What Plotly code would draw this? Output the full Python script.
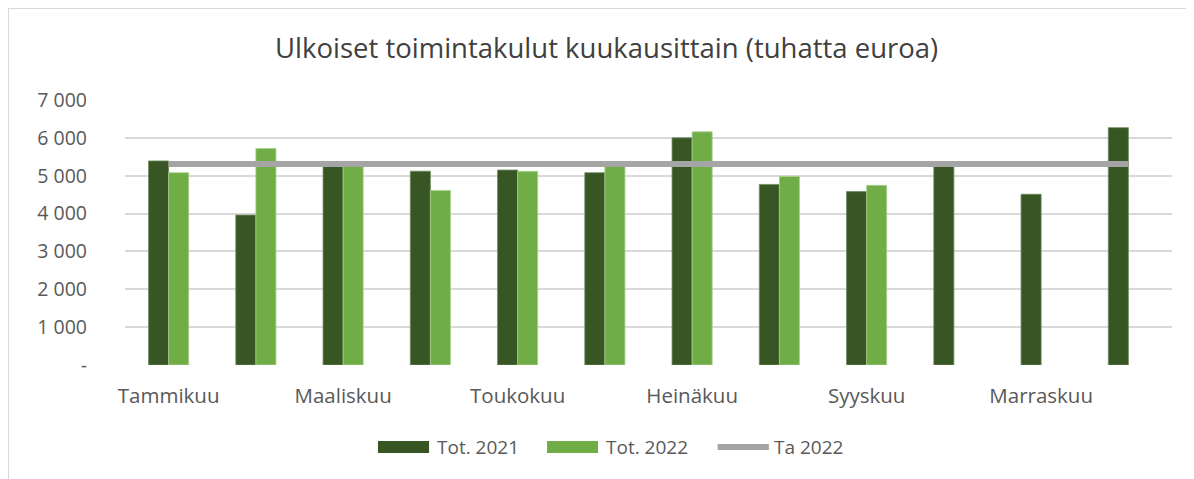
import plotly.graph_objects as go

months = ["Tammikuu", "Helmikuu", "Maaliskuu", "Huhtikuu", "Toukokuu", "Kesäkuu",
          "Heinäkuu", "Elokuu", "Syyskuu", "Lokakuu", "Marraskuu", "Joulukuu"]
series_names = ["Tot. 2021", "Tot. 2022", "Ta 2022"]
tot_2021 = [5390, 3960, 5280, 5120, 5150, 5080, 6000, 4770, 4580, 5280, 4510, 6270]
tot_2022 = [5080, 5720, 5290, 4610, 5115, 5290, 6160, 4980, 4745, None, None, None]
ta_2022 = [5310] * 12
y_ticks = [0, 1000, 2000, 3000, 4000, 5000, 6000, 7000]
y_ticktext = ["-", "1 000", "2 000", "3 000", "4 000", "5 000", "6 000", "7 000"]
x_tickvals = months[::2]

FONT = "Open Sans"
TXT = "#595959"
C21, C22, CTA = "#375623", "#70AD47", "#A5A5A5"

fig = go.Figure()
fig.add_trace(go.Bar(x=months, y=tot_2021, name=series_names[0], showlegend=False,
                     marker=dict(color=C21, line=dict(color="#6f8a5f", width=0.8))))
fig.add_trace(go.Bar(x=months, y=tot_2022, name=series_names[1], showlegend=False,
                     marker=dict(color=C22, line=dict(color="#a9d18e", width=0.8))))
fig.add_trace(go.Scatter(x=months, y=ta_2022, name=series_names[2], mode="lines", showlegend=False,
                         line=dict(color=CTA, width=6)))

# custom legend (Excel-style wide swatches)
legend_shapes = [
    dict(type="rect", xref="paper", yref="paper", x0=0.2416, x1=0.2904, y0=-0.3321, y1=-0.2868,
         fillcolor=C21, line=dict(width=0)),
    dict(type="rect", xref="paper", yref="paper", x0=0.4031, x1=0.4518, y0=-0.3321, y1=-0.2868,
         fillcolor=C22, line=dict(width=0)),
    dict(type="line", xref="paper", yref="paper", x0=0.5660, x1=0.6150, y0=-0.3094, y1=-0.3094,
         line=dict(color=CTA, width=6)),
]
legend_x = [0.2961, 0.4575, 0.6180]
legend_ann = [dict(xref="paper", yref="paper", x=lx, y=-0.3094, xanchor="left", yanchor="middle",
                   text=nm, showarrow=False, font=dict(family=FONT, size=19, color=TXT))
              for lx, nm in zip(legend_x, series_names)]

border = [
    dict(type="line", xref="paper", yref="paper", x0=-0.1117, x1=1.03, y0=1.347, y1=1.347,
         line=dict(color="#d9d9d9", width=2)),
    dict(type="line", xref="paper", yref="paper", x0=-0.1117, x1=-0.1117, y0=1.347, y1=-0.45,
         line=dict(color="#d9d9d9", width=2)),
]

fig.update_layout(
    width=1186, height=471,
    margin=dict(l=117, r=22, t=92, b=114),
    paper_bgcolor="white", plot_bgcolor="white",
    barmode="group", bargap=0.54, bargroupgap=0,
    title=dict(text="Ulkoiset toimintakulut kuukausittain (tuhatta euroa)",
               xref="paper", x=0.46, xanchor="center", y=0.915, yanchor="middle",
               font=dict(family=FONT, size=27.5, color="#404040")),
    font=dict(family=FONT, size=19, color=TXT),
    showlegend=False,
    shapes=border + legend_shapes,
    annotations=legend_ann,
)
fig.update_xaxes(type="category", tickmode="array", tickvals=x_tickvals, ticktext=x_tickvals,
                 showgrid=False, showline=False, ticks="", ticklabelstandoff=16,
                 tickfont=dict(family=FONT, size=20.5, color=TXT))
fig.update_yaxes(range=[0, 7000], tickmode="array", tickvals=y_ticks, ticktext=y_ticktext,
                 showgrid=True, gridcolor="#d9d9d9", gridwidth=1.5, zeroline=False,
                 showline=False, ticks="", ticklabelstandoff=37,
                 tickfont=dict(family=FONT, size=19.5, color=TXT))

fig.write_html("out.html")
